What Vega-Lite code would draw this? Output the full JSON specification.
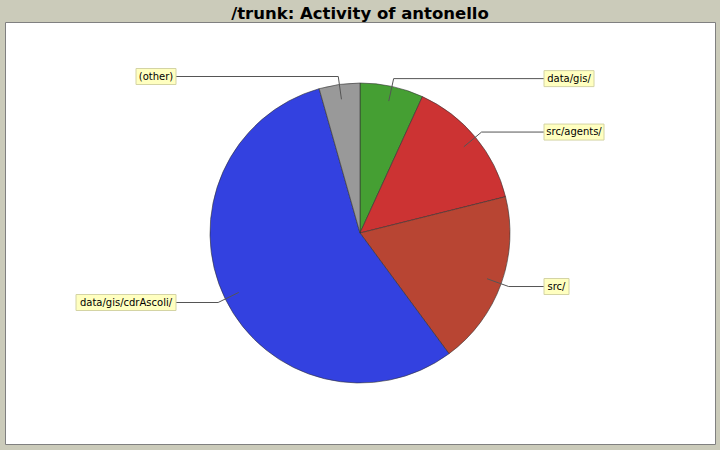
{
  "$schema": "https://vega.github.io/schema/vega-lite/v6.json",
  "autosize": "none",
  "width": 710,
  "height": 422,
  "padding": {"left": 5, "top": 22, "right": 5, "bottom": 6},
  "background": "#cbcbba",
  "title": {
    "text": "/trunk: Activity of antonello",
    "font": "DejaVu Sans",
    "fontSize": 16.5,
    "fontWeight": "bold",
    "color": "#000000",
    "anchor": "middle",
    "frame": "group",
    "baseline": "bottom",
    "offset": 1,
    "dy": 17
  },
  "config": {"view": {"fill": "white", "stroke": "#808080", "strokeWidth": 1}},
  "data": {
    "values": [
      {"idx": 1, "dir": "data/gis/", "pct": 6.83},
      {"idx": 2, "dir": "src/agents/", "pct": 14.28},
      {"idx": 3, "dir": "src/", "pct": 18.78},
      {"idx": 4, "dir": "data/gis/cdrAscoli/", "pct": 55.72},
      {"idx": 5, "dir": "(other)", "pct": 4.39}
    ]
  },
  "transform": [
    {"window": [{"op": "sum", "field": "pct", "as": "cum"}], "sort": [{"field": "idx"}], "frame": [null, 0]},
    {"joinaggregate": [{"op": "sum", "field": "pct", "as": "tot"}]},
    {"calculate": "(datum.cum - datum.pct / 2) / datum.tot * 2 * PI", "as": "mid"},
    {"calculate": "sin(datum.mid) >= 0 ? 1 : -1", "as": "side"},
    {"calculate": "135 * sin(datum.mid)", "as": "px"},
    {"calculate": "135 * cos(datum.mid)", "as": "py"},
    {"calculate": "158 * sin(datum.mid)", "as": "ex"},
    {"calculate": "158 * cos(datum.mid)", "as": "ey"},
    {"calculate": "datum.side * 184", "as": "lx"},
    {"calculate": "5 * length(datum.dir) + 5", "as": "bw"},
    {"calculate": "datum.lx + datum.side * datum.bw", "as": "lx2"},
    {"calculate": "datum.lx + datum.side * datum.bw / 2", "as": "tx"},
    {"calculate": "datum.ey + 8", "as": "by1"},
    {"calculate": "datum.ey - 8", "as": "by2"}
  ],
  "layer": [
    {
      "mark": {"type": "arc", "outerRadius": 150, "stroke": "#333333", "strokeWidth": 0.6},
      "encoding": {
        "theta": {"field": "pct", "type": "quantitative", "stack": true},
        "order": {"field": "idx", "type": "quantitative"},
        "color": {
          "field": "dir",
          "type": "nominal",
          "scale": {
            "domain": ["data/gis/", "src/agents/", "src/", "data/gis/cdrAscoli/", "(other)"],
            "range": ["#459f33", "#cc3333", "#b84533", "#3341e0", "#999999"]
          },
          "legend": null
        }
      }
    },
    {
      "mark": {"type": "rule", "color": "#555555", "strokeWidth": 1},
      "encoding": {
        "x": {"field": "px", "type": "quantitative", "scale": {"domain": [-355, 355], "nice": false, "zero": false}, "axis": null},
        "y": {"field": "py", "type": "quantitative", "scale": {"domain": [-211, 211], "nice": false, "zero": false}, "axis": null},
        "x2": {"field": "ex"},
        "y2": {"field": "ey"}
      }
    },
    {
      "mark": {"type": "rule", "color": "#555555", "strokeWidth": 1},
      "encoding": {
        "x": {"field": "ex", "type": "quantitative", "scale": {"domain": [-355, 355], "nice": false, "zero": false}, "axis": null},
        "y": {"field": "ey", "type": "quantitative", "scale": {"domain": [-211, 211], "nice": false, "zero": false}, "axis": null},
        "x2": {"field": "lx"}
      }
    },
    {
      "mark": {"type": "rect", "fill": "#ffffc0", "stroke": "#d4d4a4", "strokeWidth": 1},
      "encoding": {
        "x": {"field": "lx", "type": "quantitative", "scale": {"domain": [-355, 355], "nice": false, "zero": false}, "axis": null},
        "x2": {"field": "lx2"},
        "y": {"field": "by1", "type": "quantitative", "scale": {"domain": [-211, 211], "nice": false, "zero": false}, "axis": null},
        "y2": {"field": "by2"}
      }
    },
    {
      "mark": {"type": "text", "font": "DejaVu Sans", "fontSize": 10, "color": "#000000", "align": "center", "baseline": "middle"},
      "encoding": {
        "x": {"field": "tx", "type": "quantitative", "scale": {"domain": [-355, 355], "nice": false, "zero": false}, "axis": null},
        "y": {"field": "ey", "type": "quantitative", "scale": {"domain": [-211, 211], "nice": false, "zero": false}, "axis": null},
        "text": {"field": "dir", "type": "nominal"}
      }
    }
  ]
}
